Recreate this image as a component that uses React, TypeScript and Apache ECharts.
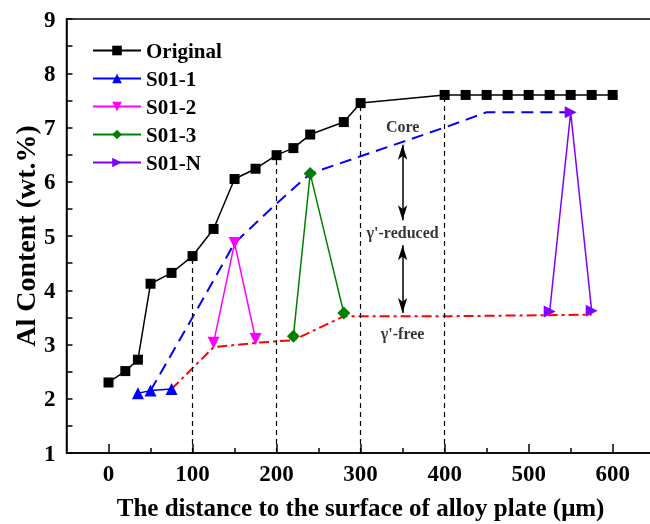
import React, { useEffect, useRef } from "react";
import * as echarts from "echarts";

const FONT = "'Liberation Serif', 'Times New Roman', serif";

const originalX = [0, 20, 35, 50, 75, 100, 125, 150, 175, 200, 220, 240, 280, 300, 400, 425, 450, 475, 500, 525, 550, 575, 600];
const originalY = [2.3, 2.51, 2.72, 4.12, 4.32, 4.63, 5.13, 6.05, 6.24, 6.49, 6.62, 6.87, 7.1, 7.45, 7.6, 7.6, 7.6, 7.6, 7.6, 7.6, 7.6, 7.6, 7.6];

const s011X = [35, 50, 75];
const s011Y = [2.1, 2.15, 2.18];
const s012X = [125, 150, 175];
const s012Y = [3.03, 4.87, 3.1];
const s013X = [220, 240, 280];
const s013Y = [3.15, 6.15, 3.58];
const s01NX = [525, 550, 575];
const s01NY = [3.61, 7.28, 3.62];

const coreX = [50, 100, 150, 200, 240, 300, 400, 450, 550];
const coreY = [2.15, 3.5, 4.87, 5.6, 6.15, 6.47, 7.0, 7.28, 7.28];
const freeX = [75, 125, 175, 220, 280, 400, 575];
const freeY = [2.18, 2.95, 3.03, 3.08, 3.52, 3.52, 3.55];

const boundaryX = [100, 200, 300, 400];
const xTickLabels = [0, 100, 200, 300, 400, 500, 600];
const xMinorTicks = [50, 150, 250, 350, 450, 550];

const annotationX = 350;
const annotationNames = ["Core", "γ'-reduced", "γ'-free"];
const annotationY = [7.01, 5.07, 3.21];
const arrowSpans = [
  [6.68, 5.29],
  [4.83, 3.58],
];

const zip = (xs: number[], ys: number[]) => xs.map((x, i) => [x, ys[i]]);

export default function App() {
  const ref = useRef<HTMLDivElement>(null);
  useEffect(() => {
    if (!ref.current) return;
    const chart = echarts.init(ref.current, undefined, { renderer: "svg" });
    const bold = { fontFamily: FONT, fontWeight: "bold" as const, color: "#000" };
    const markerSeries = (
      name: string,
      xs: number[],
      ys: number[],
      color: string,
      symbol: string,
      size: number,
      rotate = 0
    ) => ({
      name,
      type: "line",
      data: zip(xs, ys),
      symbol,
      symbolSize: size,
      symbolRotate: rotate,
      showSymbol: true,
      z: 5,
      lineStyle: { color, width: 1.5 },
      itemStyle: { color },
      emphasis: { disabled: true },
    });
    chart.setOption({
      animation: false,
      grid: {
        left: 66.5,
        right: -4.7,
        top: 19,
        bottom: 71,
        containLabel: false,
        outerBoundsMode: "none",
        show: true,
        borderColor: "#000",
        borderWidth: 1.5,
        backgroundColor: "transparent",
      },
      legend: {
        data: ["Original", "S01-1", "S01-2", "S01-3", "S01-N"],
        orient: "vertical",
        left: 87,
        top: 35,
        itemWidth: 48,
        itemHeight: 12,
        itemGap: 7,
        textStyle: { ...bold, fontSize: 21, lineHeight: 20 },
      },
      xAxis: [
        {
          type: "value",
          min: -50,
          max: 650,
          position: "bottom",
          axisLine: { show: true, onZero: false, lineStyle: { color: "#000", width: 1.5 } },
          axisTick: { show: true, inside: true, length: 9, customValues: xTickLabels, lineStyle: { color: "#000", width: 1.5 } },
          axisLabel: { ...bold, fontSize: 23, margin: 9, customValues: xTickLabels },
          splitLine: { show: false },
          name: "The distance to the surface of alloy plate (μm)",
          nameLocation: "middle",
          nameMoveOverlap: false,
          nameGap: 42,
          nameTextStyle: { ...bold, fontSize: 25 },
        },
        {
          type: "value",
          min: -50,
          max: 650,
          position: "bottom",
          axisLine: { show: false, onZero: false },
          axisTick: { show: true, inside: true, length: 5, customValues: xMinorTicks, lineStyle: { color: "#000", width: 1.5 } },
          axisLabel: { show: false },
          splitLine: { show: false },
        },
      ],
      yAxis: {
        type: "value",
        min: 1,
        max: 9,
        interval: 1,
        axisLine: { show: true, onZero: false, lineStyle: { color: "#000", width: 1.5 } },
        axisTick: { show: true, inside: true, length: 6, lineStyle: { color: "#000", width: 1.5 } },
        minorTick: { show: true, splitNumber: 2, length: 6, lineStyle: { color: "#000", width: 1.5 } },
        splitLine: { show: false },
        axisLabel: { ...bold, fontSize: 23, margin: 11 },
        name: "Al Content (wt.%)",
        nameLocation: "middle",
        nameMoveOverlap: false,
        nameGap: 27,
        nameTextStyle: { ...bold, fontSize: 28 },
      },
      series: [
        {
          name: "boundaries",
          type: "line",
          data: [],
          silent: true,
          markLine: {
            silent: true,
            symbol: "none",
            label: { show: false },
            lineStyle: { color: "#000", type: [5, 4], width: 1.2 },
            data: boundaryX.map((x) => [
              { coord: [x, 1] },
              { coord: [x, originalY[originalX.indexOf(x)]] },
            ]),
          },
        },
        {
          name: "arrows",
          type: "line",
          data: [],
          silent: true,
          markLine: {
            silent: true,
            symbol: ["arrow", "arrow"],
            symbolSize: [7, 15],
            label: { show: false },
            lineStyle: { color: "#000", type: "solid", width: 1.5 },
            data: arrowSpans.map(([a, b]) => [{ coord: [annotationX, a] }, { coord: [annotationX, b] }]),
          },
        },
        {
          name: "core",
          type: "line",
          data: zip(coreX, coreY),
          symbol: "none",
          silent: true,
          lineStyle: { color: "#0000ff", width: 2, type: [12, 7] },
        },
        {
          name: "free",
          type: "line",
          data: zip(freeX, freeY),
          symbol: "none",
          silent: true,
          lineStyle: { color: "#ff0000", width: 2, type: [10, 4, 3, 4] },
        },
        markerSeries("Original", originalX, originalY, "#000000", "rect", 10),
        markerSeries("S01-1", s011X, s011Y, "#0000ff", "triangle", 12),
        markerSeries("S01-2", s012X, s012Y, "#ff00ff", "triangle", 12, 180),
        markerSeries("S01-3", s013X, s013Y, "#008000", "diamond", 13),
        markerSeries("S01-N", s01NX, s01NY, "#8000ff", "triangle", 12, -90),
        {
          name: "annotations",
          type: "scatter",
          symbolSize: 0,
          silent: true,
          data: annotationNames.map((n, i) => ({ name: n, value: [annotationX, annotationY[i]] })),
          label: { show: true, position: "inside", formatter: "{b}", ...bold, fontSize: 16 },
        },
      ],
    });
    return () => chart.dispose();
  }, []);
  return <div ref={ref} style={{ position: "fixed", left: 0, top: 0, width: 650, height: 524 }} />;
}
